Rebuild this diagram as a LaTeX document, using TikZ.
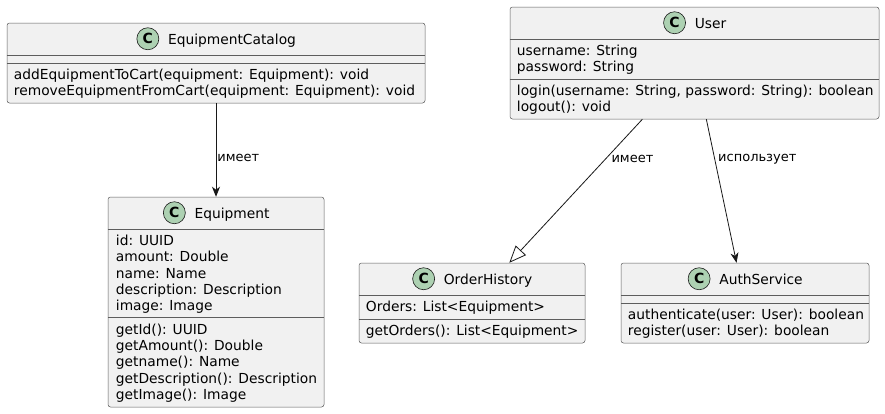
\documentclass[tikz,border=0pt]{standalone}
\usepackage{fontspec}
\setmainfont{DejaVu Sans}
\usetikzlibrary{calc,positioning,arrows.meta}
\definecolor{umlfill}{HTML}{F1F1F1}
\definecolor{umlline}{HTML}{181818}
\definecolor{umlmark}{HTML}{ADD1B2}

\begin{document}
\begin{tikzpicture}[x=1pt,y=-1pt,
    classbox/.style={draw=umlline!70, fill=umlfill, line width=0.5pt, rounded corners=2.5pt, inner sep=0pt},
    cmark/.style={circle, draw=umlline, fill=umlmark, line width=0.6pt, minimum size=22pt, inner sep=0pt, font=\fontsize{14}{14}\selectfont\bfseries},
    ctitle/.style={inner sep=0pt, anchor=base, font=\fontsize{13.8}{16.3}\selectfont},
    member/.style={inner sep=0pt, anchor=base west, font=\fontsize{13.8}{16.3}\selectfont},
    sep/.style={draw=umlline!70, line width=0.5pt},
    rel/.style={draw=umlline, line width=0.8pt},
    uses/.style={rel, -{Stealth[length=10pt,width=8pt,inset=3pt]}},
    extends/.style={rel, -{Triangle[fill=white,length=17pt,width=14pt]}},
    lbl/.style={inner sep=0pt, anchor=west, font=\fontsize{13}{15}\selectfont}]
    \fill[white] (0,0) rectangle (885,413);

    % EquipmentCatalog
    \node[classbox, minimum width=418pt, minimum height=80pt] (cat) at (216,63) {};
    \node[ctitle] (catT) at ($(cat.north)+(16,21.5)$) {EquipmentCatalog};
    \node[cmark] (catC) at ($(catT.west |- cat.north)+(-20,16)$) {C};
    \draw[sep] ($(cat.north west)+(0,32)$) -- ($(cat.north east)+(0,32)$);
    \draw[sep] ($(cat.north west)+(0,40)$) -- ($(cat.north east)+(0,40)$);
    \node[member] (catM1) at ($(cat.north west)+(7,56.7)$) {addEquipmentToCart(equipment: Equipment): void};
    \node[member] (catM2) at ($(cat.north west)+(7,73)$) {removeEquipmentFromCart(equipment: Equipment): void};

    % Equipment
    \node[classbox, minimum width=216pt, minimum height=210pt] (eq) at (216,302) {};
    \node[ctitle] (eqT) at ($(eq.north)+(16,21.5)$) {Equipment};
    \node[cmark] (eqC) at ($(eqT.west |- eq.north)+(-20,16)$) {C};
    \draw[sep] ($(eq.north west)+(0,32)$) -- ($(eq.north east)+(0,32)$);
    \draw[sep] ($(eq.north west)+(0,120.9)$) -- ($(eq.north east)+(0,120.9)$);
    \foreach \t [count=\i] in {id: UUID, amount: Double, name: Name, description: Description, image: Image}
        \node[member] (eqA\i) at ($(eq.north west)+(8,32.4+16.3*\i)$) {\t};
    \foreach \t [count=\i] in {getId(): UUID, getAmount(): Double, getname(): Name, getDescription(): Description, getImage(): Image}
        \node[member] (eqM\i) at ($(eq.north west)+(8,121.3+16.3*\i)$) {\t};

    % User
    \node[classbox, minimum width=369pt, minimum height=112pt] (user) at (694.5,63) {};
    \node[ctitle] (userT) at ($(user.north)+(16,21.5)$) {User};
    \node[cmark] (userC) at ($(userT.west |- user.north)+(-20,16)$) {C};
    \draw[sep] ($(user.north west)+(0,32)$) -- ($(user.north east)+(0,32)$);
    \draw[sep] ($(user.north west)+(0,72)$) -- ($(user.north east)+(0,72)$);
    \node[member] (userA1) at ($(user.north west)+(7,48.7)$) {username: String};
    \node[member] (userA2) at ($(user.north west)+(7,65)$) {password: String};
    \node[member] (userM1) at ($(user.north west)+(7,88.7)$) {login(username: String, password: String): boolean};
    \node[member] (userM2) at ($(user.north west)+(7,105)$) {logout(): void};

    % OrderHistory
    \node[classbox, minimum width=226pt, minimum height=80pt] (hist) at (472,303) {};
    \node[ctitle] (histT) at ($(hist.north)+(16,21.5)$) {OrderHistory};
    \node[cmark] (histC) at ($(histT.west |- hist.north)+(-20,16)$) {C};
    \draw[sep] ($(hist.north west)+(0,32)$) -- ($(hist.north east)+(0,32)$);
    \draw[sep] ($(hist.north west)+(0,56)$) -- ($(hist.north east)+(0,56)$);
    \node[member] (histA1) at ($(hist.north west)+(7,48.7)$) {Orders: List<Equipment>};
    \node[member] (histM1) at ($(hist.north west)+(7,72.7)$) {getOrders(): List<Equipment>};

    % AuthService
    \node[classbox, minimum width=248pt, minimum height=80pt] (auth) at (745,303) {};
    \node[ctitle] (authT) at ($(auth.north)+(16,21.5)$) {AuthService};
    \node[cmark] (authC) at ($(authT.west |- auth.north)+(-20,16)$) {C};
    \draw[sep] ($(auth.north west)+(0,32)$) -- ($(auth.north east)+(0,32)$);
    \draw[sep] ($(auth.north west)+(0,40)$) -- ($(auth.north east)+(0,40)$);
    \node[member] (authM1) at ($(auth.north west)+(7,56.7)$) {authenticate(user: User): boolean};
    \node[member] (authM2) at ($(auth.north west)+(7,73)$) {register(user: User): boolean};

    % relations
    \draw[uses] (cat) -- node[lbl, pos=0.59, xshift=1pt] (catEqL) {имеет} (eq);
    \draw[extends] (user) -- node[lbl, pos=0.28, xshift=6pt] (userHistL) {имеет} (hist);
    \draw[uses] (user) -- node[lbl, pos=0.28, xshift=3pt] (userAuthL) {использует} (auth);
\end{tikzpicture}
\end{document}
